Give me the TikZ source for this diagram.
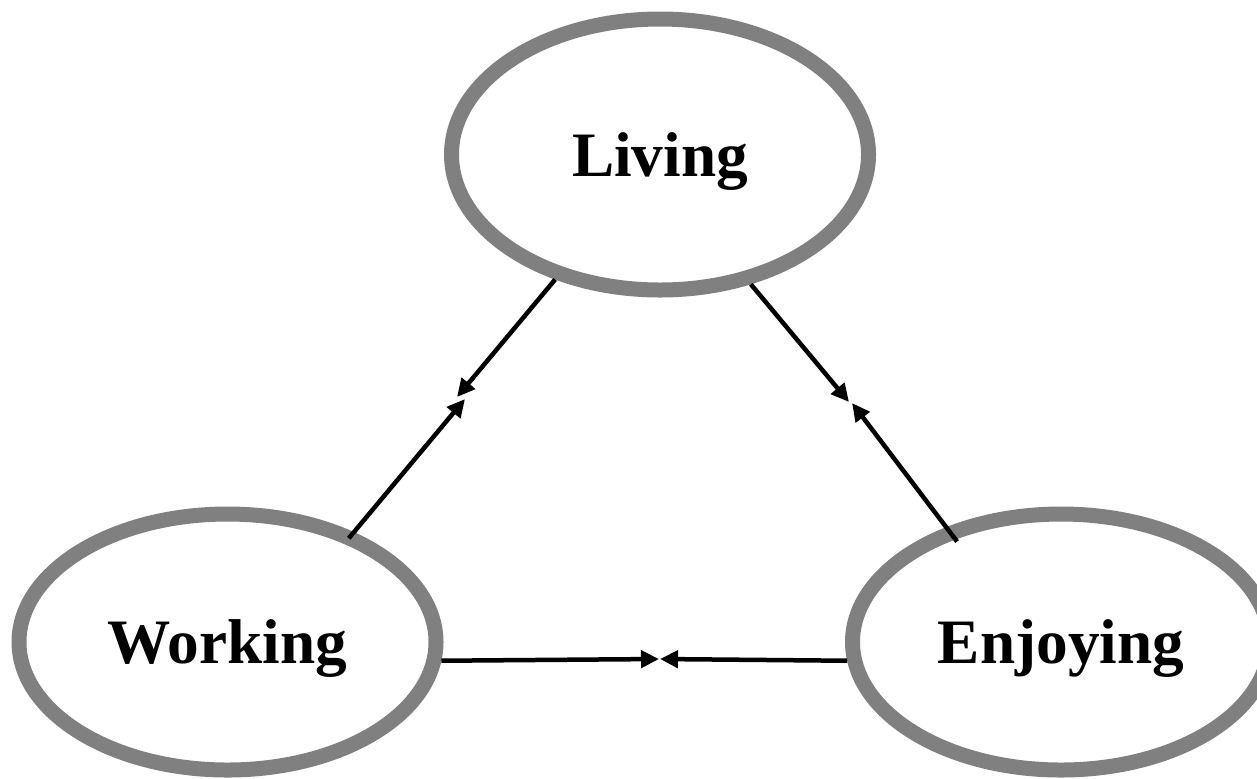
\documentclass[tikz,border=0pt]{standalone}
\usepackage{fontspec}
\setmainfont{Liberation Serif}
\usepackage{tikz}
\usetikzlibrary{arrows.meta,shapes.geometric}

\tikzset{
  blob/.style={ellipse, draw=gray, line width=0.15cm, fill=white,
    minimum width=4.17cm, minimum height=2.71cm, inner sep=0pt,
    text depth=0pt, font=\fontsize{18}{22}\selectfont\bfseries},
  low/.style={minimum height=2.56cm},
  link/.style={line width=0.045cm, -{Triangle[length=0.18cm,width=0.17cm]}}
}

\begin{document}
\begin{tikzpicture}
    \useasboundingbox (0,0) rectangle (12.57,7.78);

    \node [blob] (liv) at (6.60,6.235) { Living };
    \node [blob, low] (wrk) at (2.275,1.36) { Working };
    \node [blob, low] (enj) at (10.61,1.36) { Enjoying };

    % meeting points of the arrows
    \coordinate (lw1) at (4.57,3.81);
    \coordinate (lw2) at (4.65,3.79);
    \coordinate (le1) at (8.49,3.76);
    \coordinate (le2) at (8.52,3.75);
    \coordinate (we1) at (6.59,1.19);
    \coordinate (we2) at (6.60,1.19);

    \draw [link] (liv.230) -- (lw1);
    \draw [link, shorten <=-0.08cm] (wrk.41) -- (lw2);
    \draw [link] (liv.305) -- (le1);
    \draw [link, shorten <=-0.18cm] (enj.135) -- (le2);
    \draw [link] (wrk.-5) -- (we1);
    \draw [link] (enj.185) -- (we2);

\end{tikzpicture}
\end{document}
